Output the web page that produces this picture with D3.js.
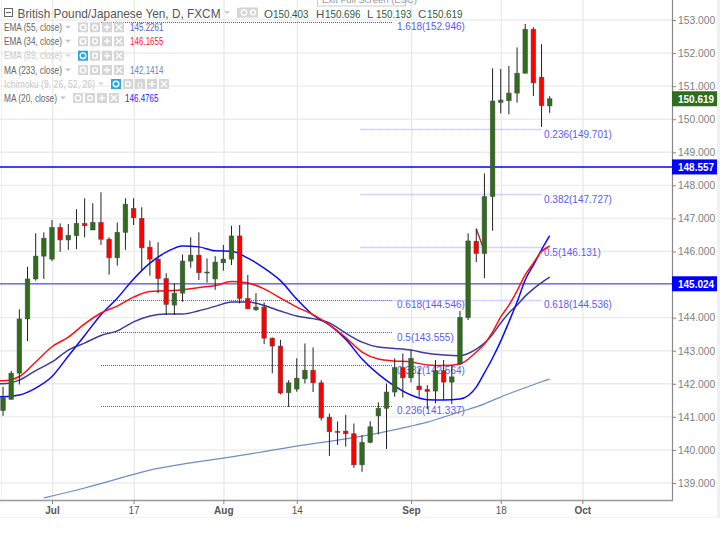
<!DOCTYPE html>
<html>
<head>
<meta charset="utf-8">
<title>GBP/JPY</title>
<script src="https://cdn.jsdelivr.net/npm/d3@7"></script>
<style>
  html, body { margin: 0; padding: 0; background: #fff; }
  text { font-family: "Liberation Sans", Arial, sans-serif; }
</style>
</head>
<body>
<div id="chart"></div>
<script>
// daily candles, first one is index -6, index 0 is 3 Jul
let firstIndex = -6;
let open = [141.19,141.53,142.32,143.96,145.17,145.86,145.77,146.73,146.35,146.48,146.85,146.65,146.88,146.37,145.81,146.58,147.30,147.00,146.13,145.77,145.18,144.38,144.74,145.71,145.89,145.36,145.17,145.66,145.77,146.47,144.58,144.24,144.32,143.38,143.14,141.73,141.84,142.15,142.41,142.03,140.99,140.56,140.57,140.49,139.55,140.23,141.03,141.26,141.75,142.49,142.18,141.93,141.83,141.78,142.40,142.05,142.60,144.00,146.31,145.94,147.66,150.51,150.56,150.79,151.39,152.72,151.27,150.403];
let high = [141.91,142.39,144.25,145.54,146.55,146.58,146.95,146.85,146.83,147.28,147.61,147.46,147.79,146.43,146.88,147.61,147.61,147.34,146.33,146.28,145.34,145.04,145.91,146.43,146.58,145.79,145.86,146.20,146.78,146.80,145.29,144.74,144.46,143.40,143.33,142.11,142.77,143.22,143.10,142.11,141.10,140.86,141.06,140.80,140.45,140.87,141.44,142.01,142.77,142.92,143.02,142.47,141.96,142.72,142.72,142.57,144.20,146.55,146.69,148.36,151.54,151.52,151.61,152.17,152.88,152.78,152.27,150.696];
let low = [141.03,141.53,141.98,143.29,145.12,145.17,145.71,145.99,146.05,146.07,146.43,146.65,146.20,145.30,145.57,146.05,146.80,145.42,145.27,144.74,144.08,144.08,144.48,145.51,145.14,145.06,144.84,145.42,145.59,144.43,144.25,144.20,143.20,142.32,141.68,141.30,141.76,142.01,141.75,140.89,139.82,140.15,140.10,139.46,139.34,140.20,140.47,140.03,141.61,141.58,142.04,141.61,141.23,141.41,141.51,141.39,142.57,143.93,145.68,145.19,146.63,150.18,150.15,150.50,151.39,150.70,149.77,150.193];
let close = [141.58,142.32,143.96,145.17,145.86,146.40,146.73,146.35,146.49,146.85,146.78,146.88,146.37,145.81,146.58,147.43,147.02,146.11,145.77,145.18,144.40,144.74,145.71,145.89,145.36,145.38,145.68,145.77,146.47,144.58,144.27,144.32,143.38,143.14,141.72,142.03,142.17,142.41,142.03,140.97,140.55,140.53,140.49,139.55,140.23,140.70,141.26,141.75,142.49,142.18,142.77,141.82,141.77,142.40,142.05,142.21,144.01,146.32,145.94,147.66,150.55,150.58,150.79,151.39,152.72,151.10,150.41,150.619];

// moving averages, read every other candle
let maIndex = [-7,-6,-4,-2,0,2,4,6,8,10,12,14,16,18,20,22,24,26,28,30,32,34,36,38,40,42,44,46,48,50,52,53,54,55,56,57,58,59,60,61];
let ma20 = [141.61,141.61,141.66,141.87,142.22,142.84,143.46,144.09,144.59,145.17,145.65,145.98,146.17,146.14,146.02,146.01,145.80,145.50,145.12,144.56,144.08,143.78,143.35,142.75,142.29,141.93,141.66,141.52,141.51,141.54,141.90,142.33,142.78,143.29,143.87,144.47,145.14,145.59,146.05,146.4765];
let ema34 = [142.09,142.09,142.22,142.66,143.12,143.41,143.81,144.14,144.35,144.62,144.79,144.81,144.84,144.91,144.97,145.09,145.05,144.87,144.59,144.32,144.09,143.78,143.40,142.96,142.75,142.69,142.66,142.57,142.55,142.60,142.96,143.20,143.57,144.02,144.38,144.81,145.29,145.65,146.00,146.1655];
let ema55 = [142.00,142.00,142.11,142.40,142.66,143.02,143.23,143.46,143.60,143.87,144.05,144.11,144.11,144.21,144.34,144.47,144.47,144.37,144.20,144.05,143.97,143.84,143.53,143.26,143.11,143.07,143.02,142.92,142.87,142.85,143.05,143.23,143.50,143.84,144.14,144.38,144.65,144.87,145.06,145.2261];
let ma233Index = [-1,4,10,12,16,21,26,32,34,40,44,46,48,50,52,54,56,58,60,61];
let ma233 = [138.55,138.85,139.26,139.39,139.57,139.75,139.95,140.19,140.26,140.51,140.72,140.84,140.99,141.15,141.30,141.50,141.70,141.88,142.06,142.1414];

// axes
let priceTicks = [139,140,141,142,143,144,145,146,147,148,149,150,151,152,153];
let dateTicks = [0,10,21,30,44,55,65];
let dateLabels = ["Jul","17","Aug","14","Sep","18","Oct"];
let boldDates = ["Jul","Aug","Sep","Oct"];

// fibonacci levels: [price, label]
let fibLeft = [[152.946,"1.618(152.946)"],[144.546,"0.618(144.546)"],[143.555,"0.5(143.555)"],[142.564,"0.382(142.564)"],[141.337,"0.236(141.337)"]];
let fibRight = [[149.701,"0.236(149.701)"],[147.727,"0.382(147.727)"],[146.131,"0.5(146.131)"],[144.536,"0.618(144.536)"]];

let levels = [148.557,145.024];
let levelColors = ["#0000ff","#6f6ffb"];
let trendPrices = [146.69,146.14];
let tagPrices = [150.619,148.557,145.024];
let tagColors = ["#2f6d1d","#0000ff","#0000ff"];

let legendRows = [
  { name: "EMA (55, close)", value: "145.2261", color: "#5560c0", on: true },
  { name: "EMA (34, close)", value: "146.1655", color: "#ff1a30", on: true },
  { name: "EMA (89, close)", value: "", color: "", on: false },
  { name: "MA (233, close)", value: "142.1414", color: "#6a80b8", on: true },
  { name: "Ichimoku (9, 26, 52, 26)", value: "", color: "", on: false },
  { name: "MA (20, close)", value: "146.4765", color: "#2a20ff", on: true }
];

let width = 725, height = 543;
let axisX = 672, axisY = 500;

let svg = d3.select("#chart").append("svg")
  .attr("width", width)
  .attr("height", height)
  .style("display", "block");

let x = d3.scaleLinear().domain([0, 61]).range([52, 549.7]);
let y = d3.scaleLinear().domain([139, 153]).range([483, 20]);

// squeezed text, the reference is a narrowed screenshot
function squeeze(sel, len) {
  sel.attr("textLength", len).attr("lengthAdjust", "spacingAndGlyphs");
}

// page edges
svg.append("rect").attr("x", 717).attr("y", 0).attr("width", 3).attr("height", 518).attr("fill", "#eef0f3");
svg.append("rect").attr("x", 0).attr("y", 517).attr("width", 720).attr("height", 1).attr("fill", "#f3f3f3");
svg.append("rect").attr("x", 1).attr("y", 0).attr("width", 1).attr("height", axisY).attr("fill", "#f0f0f0");

// grid
svg.append("g").selectAll("line").data(priceTicks).join("line")
  .attr("x1", 0).attr("x2", axisX)
  .attr("y1", d => y(d)).attr("y2", d => y(d))
  .attr("stroke", "#ececec").attr("stroke-width", 1.4);
svg.append("g").selectAll("line").data(dateTicks).join("line")
  .attr("x1", d => x(d) + 0.7).attr("x2", d => x(d) + 0.7)
  .attr("y1", 0).attr("y2", axisY)
  .attr("stroke", "#e9e9e9").attr("stroke-width", 1.3);

// fib levels
function drawFib(rows, from, to, labelX, color, w) {
  let g = svg.append("g");
  g.selectAll("line").data(rows).join("line")
    .attr("x1", x(from)).attr("x2", x(to))
    .attr("y1", d => Math.round(y(d[0])) + 0.5).attr("y2", d => Math.round(y(d[0])) + 0.5)
    .attr("stroke", color).attr("stroke-width", w)
    .attr("stroke-dasharray", "1,1");
  g.selectAll("text").data(rows).join("text")
    .attr("x", labelX)
    .attr("y", d => y(d[0]) + 8.5)
    .attr("font-size", 10)
    .attr("fill", "#5a5af5")
    .text(d => d[1]);
}
drawFib(fibLeft, 6, 41.75, 397, "#4848f0", 1);
drawFib(fibRight, 37.8, 60, 544, "#a8a8ff", 1.5);

// horizontal levels
svg.append("g").selectAll("line").data(levels).join("line")
  .attr("x1", 0).attr("x2", axisX)
  .attr("y1", d => y(d)).attr("y2", d => y(d))
  .attr("stroke", (d, i) => levelColors[i])
  .attr("stroke-width", 1.6);

// moving averages
let line = d3.line().x(d => x(d[0])).y(d => y(d[1])).curve(d3.curveMonotoneX);
function drawMa(index, values, color, w) {
  svg.append("path")
    .datum(values.map((v, i) => [index[i], v]))
    .attr("d", line)
    .attr("fill", "none")
    .attr("stroke", color)
    .attr("stroke-width", w);
}
drawMa(ma233Index, ma233, "#6f8cc9", 1.2);
drawMa(maIndex, ema55, "#3b3b9f", 1.5);
drawMa(maIndex, ma20, "#0a0aff", 1.5);
drawMa(maIndex, ema34, "#ff1010", 1.5);

// little trend line drawn on the chart
svg.append("line")
  .attr("x1", x(52)).attr("x2", x(52.8))
  .attr("y1", y(trendPrices[0])).attr("y2", y(trendPrices[1]))
  .attr("stroke", "#a02828").attr("stroke-width", 1.4);

// candles
let candles = open.map((o, i) => ({ i: firstIndex + i, o: o, h: high[i], l: low[i], c: close[i] }));
let candle = svg.append("g").selectAll("g").data(candles).join("g");
candle.append("line")
  .attr("x1", d => x(d.i)).attr("x2", d => x(d.i))
  .attr("y1", d => y(d.h)).attr("y2", d => y(d.l))
  .attr("stroke", "#222").attr("stroke-width", 1);
candle.append("rect")
  .attr("x", d => x(d.i) - 2.3)
  .attr("width", 4.6)
  .attr("y", d => y(Math.max(d.o, d.c)))
  .attr("height", d => Math.max(1, Math.abs(y(d.o) - y(d.c))))
  .attr("fill", d => d.c >= d.o ? "#2f6d1d" : "#ff0000")
  .attr("stroke", "#444")
  .attr("stroke-opacity", 0.7)
  .attr("stroke-width", 0.7);

// axes
let yAxis = svg.append("g")
  .attr("transform", "translate(" + axisX + ",0)")
  .call(d3.axisRight(y).tickValues(priceTicks).tickFormat(d3.format(".3f")).tickSize(4).tickPadding(2));
yAxis.select(".domain").attr("d", "M0.5,0V" + axisY).attr("stroke", "#888").attr("stroke-width", 1.2);
yAxis.selectAll("line").attr("stroke", "#888");
yAxis.selectAll("text").attr("font-size", 10.3).attr("font-family", null).attr("fill", "#808080");

let xAxis = svg.append("g")
  .attr("transform", "translate(0," + axisY + ")")
  .call(d3.axisBottom(x).tickValues(dateTicks).tickFormat((d, i) => dateLabels[i]).tickSize(4).tickPadding(3));
xAxis.select(".domain").attr("d", "M0,0.5H" + (axisX + 1)).attr("stroke", "#999").attr("stroke-width", 1.4);
xAxis.selectAll("line").attr("stroke", "#888");
xAxis.selectAll("text")
  .attr("font-size", 10)
  .attr("font-family", null)
  .attr("fill", "#555")
  .attr("font-weight", (d, i) => boldDates.includes(dateLabels[i]) ? "bold" : "normal");

// price tags on the axis
let tag = svg.append("g").selectAll("g").data(tagPrices).join("g");
tag.append("rect")
  .attr("x", axisX)
  .attr("y", d => y(d) - 7.5)
  .attr("width", 45)
  .attr("height", 15)
  .attr("fill", (d, i) => tagColors[i]);
tag.append("text")
  .attr("x", 678)
  .attr("y", d => y(d) + 4)
  .attr("font-size", 10)
  .attr("font-weight", "bold")
  .attr("fill", "#fff")
  .text(d => d.toFixed(3));

// "Exit Full Screen" bubble, cut by the top of the page
svg.append("rect").attr("x", 317.5).attr("y", -10).attr("width", 88).attr("height", 16)
  .attr("fill", "#fff").attr("stroke", "#ccc");
svg.append("text").attr("x", 322).attr("y", 3).attr("font-size", 9.5).attr("fill", "#999").text("Exit Full Screen (ESC)");

// header
let head = svg.append("g");
head.append("rect").attr("x", 4.5).attr("y", 8.5).attr("width", 8).attr("height", 8)
  .attr("fill", "#fff").attr("stroke", "#666");
head.append("line").attr("x1", 6).attr("x2", 11).attr("y1", 12.5).attr("y2", 12.5).attr("stroke", "#666");
squeeze(head.append("text").attr("x", 17.5).attr("y", 17.5).attr("font-size", 13.5).attr("fill", "#555")
  .text("British Pound/Japanese Yen, D, FXCM"), 203);

let ohlcLabels = ["O", "H", "L", "C"];
let ohlcValues = ["150.403", "150.696", "150.193", "150.619"];
let ohlcX = [264, 316, 367, 418];
ohlcLabels.forEach((t, i) => {
  head.append("text").attr("x", ohlcX[i]).attr("y", 17.5).attr("font-size", 11.5).attr("fill", "#555").text(t);
  squeeze(head.append("text").attr("x", ohlcX[i] + 9).attr("y", 17.5).attr("font-size", 11.5).attr("fill", "#2c5c40")
    .text(ohlcValues[i]), 35.5);
});

// chevrons and the small buttons beside each row
function chevron(g, cx, cy, color) {
  g.append("path")
    .attr("d", "M" + (cx - 3) + "," + (cy - 1.5) + "L" + (cx + 3) + "," + (cy - 1.5) + "L" + cx + "," + (cy + 1.5) + "Z")
    .attr("fill", color);
}
function button(g, bx, cy, kind, active) {
  g.append("rect").attr("x", bx).attr("y", cy - 5).attr("width", 10).attr("height", 10)
    .attr("fill", active ? "#2aa6e0" : "#d6d6d6");
  let mid = bx + 5;
  if (kind == "eye" || kind == "gear") {
    g.append("circle").attr("cx", mid).attr("cy", cy).attr("r", kind == "eye" ? 2.8 : 2.4)
      .attr("fill", "none").attr("stroke", "#fff").attr("stroke-width", 1.4);
  } else if (kind == "plus") {
    g.append("path").attr("d", "M" + (mid - 3) + "," + cy + "H" + (mid + 3) + "M" + mid + "," + (cy - 3) + "V" + (cy + 3))
      .attr("stroke", "#fff").attr("stroke-width", 1.4);
  } else if (kind == "x") {
    g.append("path").attr("d", "M" + (mid - 3) + "," + (cy - 3) + "L" + (mid + 3) + "," + (cy + 3) + "M" + (mid + 3) + "," + (cy - 3) + "L" + (mid - 3) + "," + (cy + 3))
      .attr("stroke", "#fff").attr("stroke-width", 1.3);
  } else {
    g.append("text").attr("x", mid).attr("y", cy + 3).attr("text-anchor", "middle").attr("font-size", 8).attr("fill", "#fff").text("()");
  }
}

head.append("rect").attr("x", 237).attr("y", 8).attr("width", 3).attr("height", 10).attr("fill", "#d6d6d6");
chevron(head, 227, 12.5, "#ccc");
button(head, 239, 12.5, "eye", false);
button(head, 248, 12.5, "gear", false);

// indicator rows
let rowY = [27.3, 41.3, 55.7, 70, 84, 98];
let rowText = [62, 62, 62, 62, 95, 57];
let rowKinds = ["eye", "gear", "plus", "x"];
let ichiKinds = ["eye", "gear", "cloud", "plus", "x"];
legendRows.forEach((r, i) => {
  let g = svg.append("g");
  let cy = rowY[i];
  squeeze(g.append("text").attr("x", 4).attr("y", cy + 3.5).attr("font-size", 10.5)
    .attr("fill", r.on ? "#666" : "#c9c9c9")
    .text(r.name), rowText[i] - 4);
  chevron(g, rowText[i] + 6, cy, r.on ? "#c4c4c4" : "#d8d8d8");
  let kinds = i == 4 ? ichiKinds : rowKinds;
  let startX = rowText[i] + 16;
  kinds.forEach((k, j) => {
    button(g, startX + j * 12, cy, k, !r.on && j == 0);
  });
  if (r.value) {
    squeeze(g.append("text").attr("x", startX + 52).attr("y", cy + 3.5).attr("font-size", 10.5)
      .attr("fill", r.color).text(r.value), 33.5);
  }
});
</script>
</body>
</html>
